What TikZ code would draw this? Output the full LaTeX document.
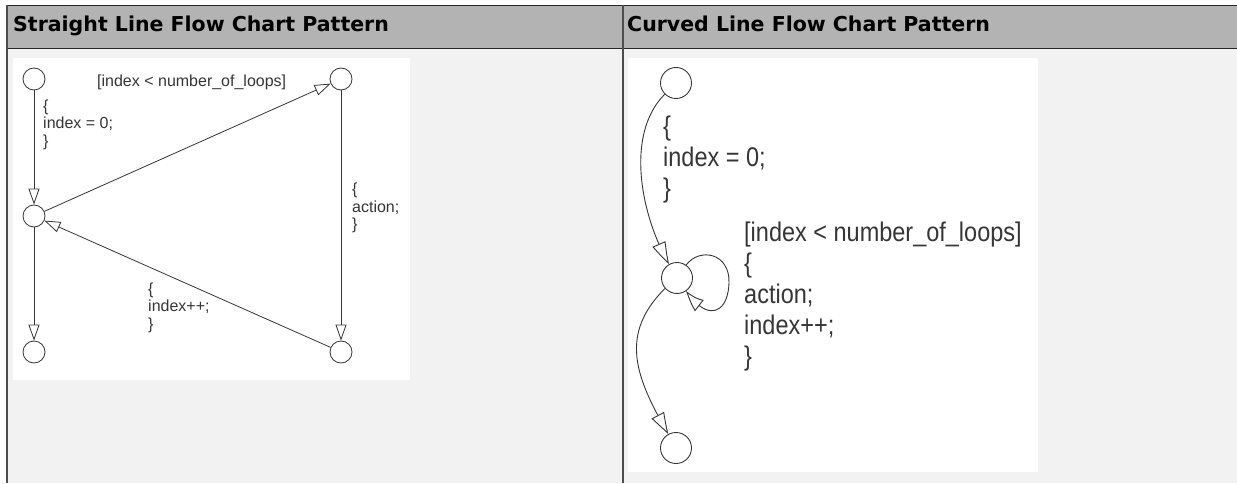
\documentclass[tikz,border=0pt]{standalone}
\usepackage{fontspec}
\setmainfont{Liberation Sans}
\newfontfamily\hdrfont{DejaVu Sans}
\newfontfamily\narrowfont{Liberation Sans}[FakeStretch=0.87]
\usetikzlibrary{arrows.meta,bending}
\definecolor{hdrgray}{HTML}{B3B3B3}
\definecolor{bodygray}{HTML}{F2F2F2}
\definecolor{rulegray}{HTML}{4D4D4D}
\definecolor{ink}{HTML}{363636}
\begin{document}
\begin{tikzpicture}[x=1pt,y=1pt,
  state/.style={circle, draw=ink, fill=white, line width=0.8pt, minimum size=22pt, inner sep=0pt},
  bigstate/.style={state, line width=0.9pt, minimum size=31pt},
  edge/.style={draw=ink, line width=0.8pt, -{Triangle[open, length=16pt, width=11pt]}},
  bigedge/.style={draw=ink, line width=0.9pt, -{Triangle[open, length=22pt, width=14pt, bend]}},
  small/.style={font=\fontsize{16}{17.5}\selectfont, text=ink, align=left, inner sep=0pt, anchor=west},
  large/.style={font=\narrowfont\fontsize{27}{31}\selectfont, text=ink, align=left, inner sep=0pt, anchor=west},
  hdr/.style={font=\hdrfont\bfseries\fontsize{20.5}{25}\selectfont, anchor=base west, inner sep=0pt}
]
\useasboundingbox (0,0) rectangle (1237,483);
\fill[white] (0,0) rectangle (1237,483);
% table
\fill[bodygray] (6,0) rectangle (1237,435);
\fill[hdrgray] (6,435) rectangle (1237,478);
\draw[black!85, line width=1.4pt] (6,477.7) -- (1237,477.7);
\draw[black!85, line width=1.4pt] (6,434.7) -- (1237,434.7);
\draw[rulegray, line width=2pt] (6.5,0) -- (6.5,478.4);
\draw[rulegray, line width=2pt] (623,0) -- (623,478.4);
\node[hdr] (h1) at (13,451) {Straight Line Flow Chart Pattern};
\node[hdr] (h2) at (627,451) {Curved Line Flow Chart Pattern};
% image backgrounds
\fill[white] (13,103) rectangle (410,425);
\fill[white] (628,11) rectangle (1038,425);
% left diagram
\node[state] (tl) at (34,404) {};
\node[state] (tr) at (341,404) {};
\node[state] (ml) at (34,267) {};
\node[state] (bl) at (34,131) {};
\node[state] (br) at (341,131) {};
\draw[edge] (tl) -- (ml);
\draw[edge] (ml) -- (tr);
\draw[edge] (tr) -- (br);
\draw[edge] (br) -- (ml);
\draw[edge] (ml) -- (bl);
\node[small] (lcond) at (97,401) {[index < number\_of\_loops]};
\node[small] (linit) at (43,358.5) {\{\\index = 0;\\\}};
\node[small] (lact) at (352,275) {\{\\action;\\\}};
\node[small] (linc) at (148,175.5) {\{\\index++;\\\}};
% right diagram
\node[bigstate] (rt) at (676,400) {};
\node[bigstate] (rm) at (677,205) {};
\node[bigstate] (rb) at (676,35) {};
\coordinate (loopr) at (729,200);
\draw[bigedge] (rt.225) to[out=225, in=120, looseness=0.85] (rm.120);
\draw[bigedge] (rm.221) to[out=225, in=120, looseness=1.15] (rb.119);
\draw[bigedge] (rm.55) .. controls (700,236) and (730,230) .. (loopr)
  .. controls (728,170) and (708,160) .. (rm.-55);
\node[large] (rinit) at (663,323) {\{\\index = 0;\\\}};
\node[large] (rbody) at (744,186) {[index < number\_of\_loops]\\\{\\action;\\index++;\\\}};
\end{tikzpicture}
\end{document}
